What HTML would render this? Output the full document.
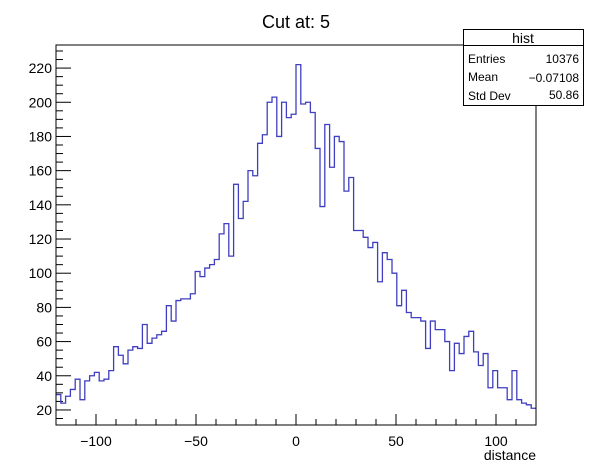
<!DOCTYPE html>
<html><head><meta charset="utf-8"><style>
body{margin:0;background:#fff;}
svg{display:block;font-family:"Liberation Sans",Arial,sans-serif;}
</style></head><body>
<svg id="chart" width="592" height="472" xmlns="http://www.w3.org/2000/svg">
<rect x="0" y="0" width="592" height="472" fill="#fff"/>
<text x="296" y="28" font-size="18" text-anchor="middle">Cut at: 5</text>
<g id="axes"></g>
<path id="hist" fill="none" stroke="#3f3fbf" stroke-width="1.3"/>
<rect x="56" y="45" width="480" height="380" fill="none" stroke="#000" stroke-width="1"/>
<g>
<rect x="463.5" y="29.5" width="120" height="76" fill="#fff" stroke="#000"/>
<line x1="463.5" y1="45.5" x2="583.5" y2="45.5" stroke="#000"/>
<text x="523" y="43" font-size="14" text-anchor="middle">hist</text>
<text x="468" y="63" font-size="12">Entries</text><text x="579" y="63" font-size="12" text-anchor="end">10376</text>
<text x="468" y="81" font-size="12">Mean</text><text x="579" y="82" font-size="12" text-anchor="end">−0.07108</text>
<text x="468" y="100" font-size="12">Std Dev</text><text x="579" y="99" font-size="12" text-anchor="end">50.86</text>
</g>
<text x="536" y="460" font-size="14" text-anchor="end">distance</text>
</svg>
<script>
const xMin=-120, xMax=120;
const yMin=11.2, yMax=233.5;
const counts=[29,24,28,32,38,26,37,40,42,37,38,43,57,52,47,55,57,56,70,59,62,64,66,81,72,84,85,85,88,101,98,103,105,108,123,129,110,152,132,142,160,157,176,181,200,203,180,200,191,193,222,199,200,194,173,139,187,162,180,177,148,156,125,125,121,115,118,95,112,108,100,81,90,77,74,74,72,56,72,67,67,60,43,59,53,63,66,54,46,53,33,43,33,33,26,43,26,24,23,21];
const xTicksMajor=[-100,-50,0,50,100];
const yTicksMajor=[20,40,60,80,100,120,140,160,180,200,220];
const L=56,R=536,T=45,B=425;
function sx(v){return L+(v-xMin)/(xMax-xMin)*(R-L);}
function sy(v){return B-(v-yMin)/(yMax-yMin)*(B-T);}
const ns="http://www.w3.org/2000/svg";
const axes=document.getElementById('axes');
function line(x1,y1,x2,y2,name){const l=document.createElementNS(ns,'line');l.setAttribute('x1',x1);l.setAttribute('y1',y1);l.setAttribute('x2',x2);l.setAttribute('y2',y2);l.setAttribute('stroke','#000');


axes.appendChild(l);}
function text(x,y,s,anchor,name){const t=document.createElementNS(ns,'text');t.setAttribute('x',x);t.setAttribute('y',y);t.setAttribute('font-size','14');t.setAttribute('text-anchor',anchor);t.textContent=s;


axes.appendChild(t);}
for(let v=-120;v<=120;v+=10){const x=sx(v);const major=v%50===0;line(x,B,x,B-(major?11:6),'x-tick');}
xTicksMajor.forEach(v=>text(sx(v),446,(v<0?'−':'')+Math.abs(v),'middle','x-tick-label'));
for(let v=15;v<=yMax;v+=5){const y=sy(v);const major=v%20===0;line(L,y,L+(major?15:7),y,'y-tick');}
yTicksMajor.forEach(v=>text(L-4,sy(v)+5,String(v),'end','y-tick-label'));
const bw=(xMax-xMin)/counts.length;
let d='M'+sx(xMin)+','+sy(counts[0]);
counts.forEach((c,i)=>{const x0=sx(xMin+i*bw),x1=sx(xMin+(i+1)*bw),y=sy(c);d+=' L'+x0+','+y+' L'+x1+','+y;});
document.getElementById('hist').setAttribute('d',d);
</script>
</body></html>
